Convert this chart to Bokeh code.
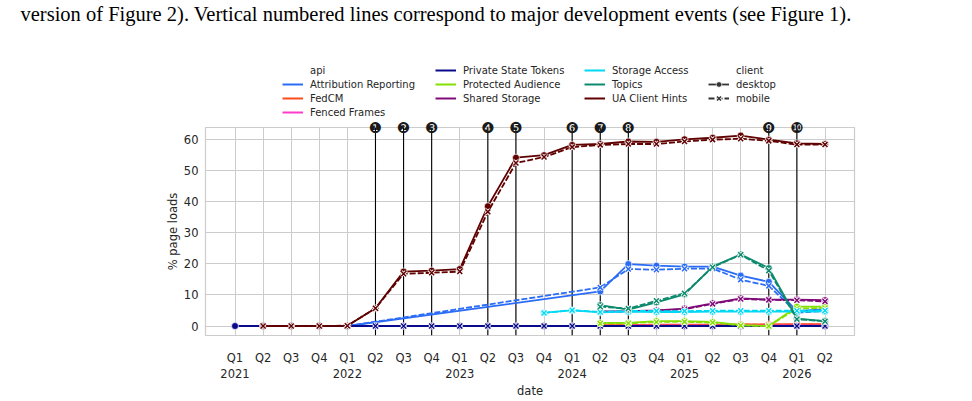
import numpy as np
from bokeh.plotting import figure
from bokeh.layouts import column
from bokeh.models import Range1d, FixedTicker, Span, Legend, LegendItem
from bokeh.core.properties import value
from bokeh.embed import file_html
from bokeh.resources import INLINE

# ---------------- data ----------------
quarter_labels = ["Q1\n2021", "Q2", "Q3", "Q4",
                  "Q1\n2022", "Q2", "Q3", "Q4",
                  "Q1\n2023", "Q2", "Q3", "Q4",
                  "Q1\n2024", "Q2", "Q3", "Q4",
                  "Q1\n2025", "Q2", "Q3", "Q4",
                  "Q1\n2026", "Q2"]
quarter_idx = list(range(len(quarter_labels)))

N = None
# values per quarter (index 0 = Q1 2021 ... 21 = Q2 2026), None = no data
attribution_desktop = [N, N, N, N, 0.0, N, N, N, N, N, N, N, N, 11.1, 19.9, 19.4, 19.1, 19.1, 16.2, 14.2, 4.8, 5.4]
attribution_mobile  = [N, N, N, N, 0.0, N, N, N, N, N, N, N, N, 12.4, 18.3, 18.1, 18.4, 18.5, 14.9, 12.9, 4.3, 4.8]
fedcm_desktop       = [N, N, N, N, N, N, N, N, N, N, N, N, N, 0.3, 0.3, 0.4, 0.4, 0.4, 0.5, 0.5, 0.6, 0.6]
fedcm_mobile        = [N, N, N, N, N, N, N, N, N, N, N, N, N, 0.2, 0.2, 0.3, 0.3, 0.3, 0.4, 0.4, 0.4, 0.4]
fenced_desktop      = [N, N, N, N, N, N, N, N, N, N, N, N, N, N, 0.1, 0.1, 0.1, 0.1, 0.1, 0.1, 0.1, 0.1]
fenced_mobile       = [N, N, N, N, N, N, N, N, N, N, N, N, N, N, 0.1, 0.1, 0.1, 0.1, 0.1, 0.1, 0.1, 0.1]
pst_desktop         = [0.0, 0.0, 0.0, 0.0, 0.0, 0.0, 0.0, 0.0, 0.0, 0.0, 0.0, 0.0, 0.0, 0.0, 0.0, 0.0, 0.0, 0.0, 0.0, 0.0, 0.0, 0.0]
pst_mobile          = [N, 0.0, 0.0, 0.0, 0.0, 0.0, 0.0, 0.0, 0.0, 0.0, 0.0, 0.0, 0.0, 0.0, 0.0, 0.0, 0.0, 0.0, 0.0, 0.0, 0.0, 0.0]
protected_desktop   = [N, N, N, N, N, N, N, N, N, N, N, N, N, 1.0, 1.0, 1.6, 1.6, 1.3, 0.3, 0.0, 6.2, 6.2]
protected_mobile    = [N, N, N, N, N, N, N, N, N, N, N, N, N, 0.8, 0.9, 1.3, 1.4, 1.1, 0.2, 0.0, 5.6, 5.8]
shared_desktop      = [N, N, N, N, N, N, N, N, N, N, N, N, N, 4.7, 4.8, 5.0, 5.6, 7.3, 8.9, 8.5, 8.5, 8.3]
shared_mobile       = [N, N, N, N, N, N, N, N, N, N, N, N, N, 4.5, 4.7, 4.9, 5.4, 7.1, 8.7, 8.4, 8.3, 7.9]
storage_desktop     = [N, N, N, N, N, N, N, N, N, N, N, 4.3, 5.0, 4.4, 4.6, 4.5, 4.5, 4.6, 4.6, 4.6, 4.6, 4.7]
storage_mobile      = [N, N, N, N, N, N, N, N, N, N, N, 4.2, 5.1, 4.5, 4.9, 4.8, 4.8, 4.9, 4.9, 4.9, 4.9, 5.0]
topics_desktop      = [N, N, N, N, N, N, N, N, N, N, N, N, N, 6.7, 5.3, 7.6, 10.2, 19.1, 23.0, 18.6, 2.4, 1.6]
topics_mobile       = [N, N, N, N, N, N, N, N, N, N, N, N, N, 6.2, 5.6, 8.1, 10.5, 18.9, 22.9, 17.8, 2.2, 1.5]
uach_desktop        = [N, 0.0, 0.0, 0.0, 0.1, 5.7, 17.5, 17.8, 18.3, 38.5, 54.1, 54.9, 58.2, 58.5, 59.3, 59.2, 60.0, 60.5, 61.2, 59.9, 58.7, 58.5]
uach_mobile         = [N, 0.0, 0.0, 0.0, 0.1, 5.7, 16.8, 17.1, 17.5, 36.7, 52.4, 54.3, 57.5, 58.2, 58.5, 58.5, 59.3, 59.9, 60.2, 59.5, 58.3, 58.3]

api_names = ["Attribution Reporting", "FedCM", "Fenced Frames", "Private State Tokens",
             "Protected Audience", "Shared Storage", "Storage Access", "Topics", "UA Client Hints"]
api_colors = ["#2b6cf6", "#ff4a1a", "#ff3cc8", "#0a0a8c", "#84e000",
              "#7f0a78", "#00d8f5", "#0d8a6e", "#600000"]
desktop_series = [attribution_desktop, fedcm_desktop, fenced_desktop, pst_desktop, protected_desktop,
                  shared_desktop, storage_desktop, topics_desktop, uach_desktop]
mobile_series = [attribution_mobile, fedcm_mobile, fenced_mobile, pst_mobile, protected_mobile,
                 shared_mobile, storage_mobile, topics_mobile, uach_mobile]

event_quarters = [5, 6, 7, 9, 10, 12, 13, 14, 19, 20]
event_labels = ["\u2776", "\u2777", "\u2778", "\u2779", "\u277a", "\u277b", "\u277c", "\u277d", "\u277e", "\u277f"]

caption = "version of Figure 2). Vertical numbered lines correspond to major development events (see Figure 1)."

TXT = "#262626"
FONT = "DejaVu Sans"
HEAD_H = 120
BL, BR = 205, 118   # frame borders, shared by header and plot

# ---------------- header (caption + legend) ----------------
h = figure(width=972, height=HEAD_H, output_backend="svg", toolbar_location=None,
           x_range=Range1d(0, 1), y_range=Range1d(0, 1),
           x_axis_location=None, y_axis_location=None,
           min_border_left=BL, min_border_right=BR, min_border_top=0, min_border_bottom=0)
h.outline_line_color = None
h.grid.visible = False
h.background_fill_color = "white"
h.border_fill_color = "white"
h.title.text = caption
h.title.text_font = "Liberation Serif"
h.title.text_font_size = "20.5px"
h.title.text_font_style = "normal"
h.title.text_color = "black"
h.title.offset = 20 - BL
h.title.standoff = 0

nan = [np.nan]
def blank():
    return h.line(nan, nan, line_alpha=0)

api_items = []
for name, col in zip(api_names, api_colors):
    r = h.line(nan, nan, line_color=col, line_width=2)
    api_items.append(LegendItem(label=name, renderers=[r]))

LW = 1.8
MS = 7
d_line = h.line(nan, nan, line_color="#333333", line_width=LW)
d_mark = h.scatter(nan, nan, marker="circle", size=MS, fill_color="#333333", line_color="white", line_width=0.7)
m_line = h.line(nan, nan, line_color="#333333", line_width=LW, line_dash="6 2")
m_mark0 = h.scatter(nan, nan, marker="x", size=MS, line_color="white", line_width=3.2)
m_mark = h.scatter(nan, nan, marker="x", size=MS, line_color="#333333", line_width=1.5)

columns = [
    [LegendItem(label="api", renderers=[blank()])] + api_items[0:3],
    api_items[3:6],
    api_items[6:9],
    [LegendItem(label="client", renderers=[blank()]),
     LegendItem(label="desktop", renderers=[d_line, d_mark]),
     LegendItem(label="mobile", renderers=[m_line, m_mark0, m_mark])],
]
col_x = [282, 435, 584, 708]
for items, cx in zip(columns, col_x):
    leg = Legend(items=items, location=(cx - BL, 1 + 14 * (4 - len(items))),
                 label_text_font=FONT, label_text_font_size="10px", label_text_color=TXT,
                 glyph_width=21, glyph_height=14, label_height=14, label_standoff=7,
                 spacing=0, padding=0, margin=0, border_line_color=None,
                 background_fill_alpha=0)
    h.add_layout(leg)

# ---------------- main plot ----------------
y_lo, y_hi = -3.05, 63.8
p = figure(width=972, height=401 - HEAD_H, output_backend="svg", toolbar_location=None,
           x_range=Range1d(-1.05, 22.05), y_range=Range1d(y_lo, y_hi),
           min_border_left=BL, min_border_right=BR, min_border_top=127 - HEAD_H,
           min_border_bottom=54)
p.background_fill_color = "white"
p.border_fill_color = "white"
p.outline_line_color = "#cccccc"
p.outline_line_width = 1.2

p.xaxis.ticker = FixedTicker(ticks=quarter_idx)
p.xgrid.ticker = FixedTicker(ticks=quarter_idx)
p.xaxis.major_label_overrides = {i: lab for i, lab in zip(quarter_idx, quarter_labels)}
p.yaxis.ticker = FixedTicker(ticks=[0, 10, 20, 30, 40, 50, 60])
p.ygrid.ticker = FixedTicker(ticks=[0, 10, 20, 30, 40, 50, 60])
p.grid.grid_line_color = "#cccccc"
p.grid.grid_line_width = 1

for ax in (p.xaxis, p.yaxis):
    ax.axis_line_color = None
    ax.major_tick_line_color = None
    ax.minor_tick_line_color = None
    ax.major_label_text_font = FONT
    ax.major_label_text_font_size = "11.5px"
    ax.major_label_text_color = TXT
    ax.axis_label_text_font = FONT
    ax.axis_label_text_font_size = "11.5px"
    ax.axis_label_text_font_style = "normal"
    ax.axis_label_text_color = TXT
p.xaxis.axis_label = "date"
p.yaxis.axis_label = "% page loads"
p.xaxis.major_label_standoff = 9
p.yaxis.major_label_standoff = 1
p.xaxis.axis_label_standoff = 0
p.yaxis.axis_label_standoff = 1

for q in event_quarters:
    p.add_layout(Span(location=q, dimension="height", line_color="black", line_width=1.1, level="underlay"))

def clean(vals):
    xs = [i for i, v in zip(quarter_idx, vals) if v is not None]
    ys = [v for v in vals if v is not None]
    return xs, ys

for name, col, dv, mv in zip(api_names, api_colors, desktop_series, mobile_series):
    xd, yd = clean(dv)
    p.line(xd, yd, line_color=col, line_width=LW)
    p.scatter(xd, yd, marker="circle", size=MS, fill_color=col, line_color="white", line_width=0.7)
    xm, ym = clean(mv)
    p.line(xm, ym, line_color=col, line_width=LW, line_dash="6 2")
    p.scatter(xm, ym, marker="x", size=MS, line_color="white", line_width=3.2)
    p.scatter(xm, ym, marker="x", size=MS, line_color=col, line_width=1.5)

p.text(x=event_quarters, y=[y_hi] * len(event_quarters), text=event_labels,
       text_align="center", text_baseline="middle", text_font=value(FONT),
       text_font_size="15px", text_color="#1a1a1a", level="overlay")

layout = column(h, p, spacing=0)
open("out.html", "w").write(file_html(layout, INLINE))
